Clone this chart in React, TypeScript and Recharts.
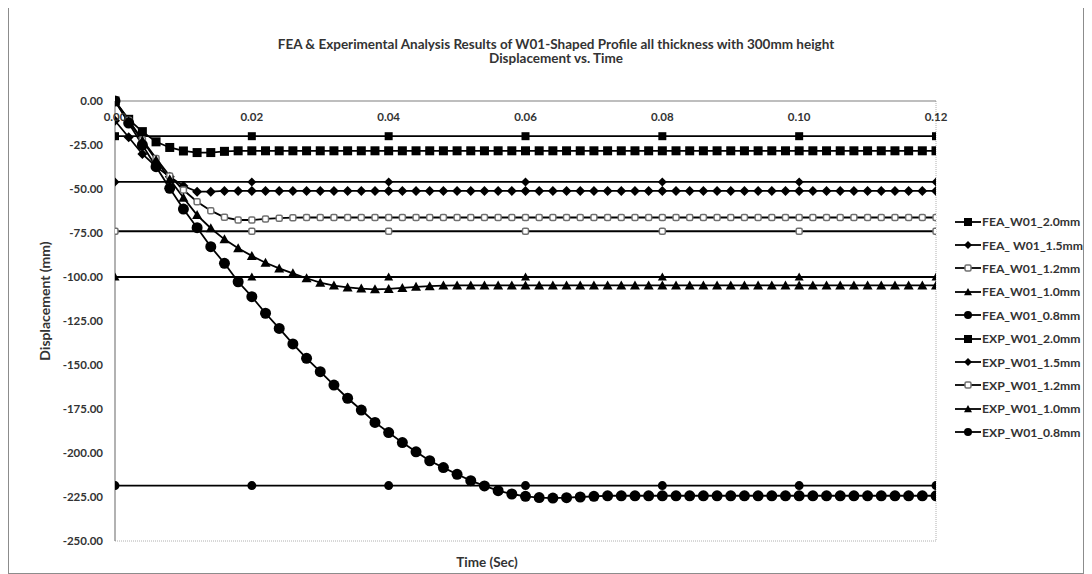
import { LineChart, Line, XAxis, YAxis, ReferenceLine } from 'recharts';

// FEA time steps (sec)
const TIME = [
  0, 0.002, 0.004, 0.006, 0.008, 0.01, 0.012, 0.014, 0.016, 0.018,
  0.02, 0.022, 0.024, 0.026, 0.028, 0.03, 0.032, 0.034, 0.036, 0.038,
  0.04, 0.042, 0.044, 0.046, 0.048, 0.05, 0.052, 0.054, 0.056, 0.058,
  0.06, 0.062, 0.064, 0.066, 0.068, 0.07, 0.072, 0.074, 0.076, 0.078,
  0.08, 0.082, 0.084, 0.086, 0.088, 0.09, 0.092, 0.094, 0.096, 0.098,
  0.1, 0.102, 0.104, 0.106, 0.108, 0.11, 0.112, 0.114, 0.116, 0.118,
  0.12,
];

const FEA_2_0 = [
  0, -10.4, -17.4, -23.2, -26.4, -28.4, -29.3, -29.3, -28.6, -28.3,
  -28.3, -28.3, -28.3, -28.3, -28.3, -28.3, -28.3, -28.3, -28.3, -28.3,
  -28.3, -28.3, -28.3, -28.3, -28.3, -28.3, -28.3, -28.3, -28.3, -28.3,
  -28.3, -28.3, -28.3, -28.3, -28.3, -28.3, -28.3, -28.3, -28.3, -28.3,
  -28.3, -28.3, -28.3, -28.3, -28.3, -28.3, -28.3, -28.3, -28.3, -28.3,
  -28.3, -28.3, -28.3, -28.3, -28.3, -28.3, -28.3, -28.3, -28.3, -28.3,
  -28.3,
];

const FEA_1_5 = [
  -11.2, -20.6, -30.1, -37.3, -43.0, -48.3, -51.5, -51.5, -51.1, -51.1,
  -51.1, -51.1, -51.1, -51.1, -51.1, -51.1, -51.1, -51.1, -51.1, -51.1,
  -51.1, -51.1, -51.1, -51.1, -51.1, -51.1, -51.1, -51.1, -51.1, -51.1,
  -51.1, -51.1, -51.1, -51.1, -51.1, -51.1, -51.1, -51.1, -51.1, -51.1,
  -51.1, -51.1, -51.1, -51.1, -51.1, -51.1, -51.1, -51.1, -51.1, -51.1,
  -51.1, -51.1, -51.1, -51.1, -51.1, -51.1, -51.1, -51.1, -51.1, -51.1,
  -51.1,
];

const FEA_1_2 = [
  0, -11.0, -22.0, -32.6, -42.6, -50.6, -57.2, -62.3, -66.1, -67.6,
  -67.6, -67.0, -66.6, -66.3, -66.2, -66.2, -66.2, -66.2, -66.2, -66.2,
  -66.2, -66.2, -66.2, -66.2, -66.2, -66.2, -66.2, -66.2, -66.2, -66.2,
  -66.2, -66.2, -66.2, -66.2, -66.2, -66.2, -66.2, -66.2, -66.2, -66.2,
  -66.2, -66.2, -66.2, -66.2, -66.2, -66.2, -66.2, -66.2, -66.2, -66.2,
  -66.2, -66.2, -66.2, -66.2, -66.2, -66.2, -66.2, -66.2, -66.2, -66.2,
  -66.2,
];

const FEA_1_0 = [
  0, -11.5, -22.5, -33.5, -44.5, -55.0, -64.8, -72.3, -78.6, -83.7,
  -88.0, -91.9, -95.1, -97.9, -100.7, -103.2, -104.9, -105.9, -106.6, -107.0,
  -106.8, -106.2, -105.6, -105.2, -104.9, -104.8, -104.8, -104.8, -104.8, -104.8,
  -104.8, -104.8, -104.8, -104.8, -104.8, -104.8, -104.8, -104.8, -104.8, -104.8,
  -104.8, -104.8, -104.8, -104.8, -104.8, -104.8, -104.8, -104.8, -104.8, -104.8,
  -104.8, -104.8, -104.8, -104.8, -104.8, -104.8, -104.8, -104.8, -104.8, -104.8,
  -104.8,
];

const FEA_0_8 = [
  0, -12.5, -25.0, -37.3, -49.6, -61.4, -72.0, -82.8, -92.2, -102.7,
  -111.2, -120.6, -129.2, -138.0, -146.2, -153.8, -161.4, -168.9, -175.6, -182.6,
  -188.4, -194.1, -199.3, -204.4, -208.3, -212.1, -215.7, -218.7, -221.4, -223.3,
  -224.6, -225.3, -225.6, -225.4, -225.0, -224.6, -224.3, -224.3, -224.3, -224.3,
  -224.3, -224.3, -224.3, -224.3, -224.3, -224.3, -224.3, -224.3, -224.3, -224.3,
  -224.3, -224.3, -224.3, -224.3, -224.3, -224.3, -224.3, -224.3, -224.3, -224.3,
  -224.3,
];

// experimental results (constant final displacement)
const EXP_TIME = [0, 0.02, 0.04, 0.06, 0.08, 0.1, 0.12];
const EXP_2_0 = [-20, -20, -20, -20, -20, -20, -20];
const EXP_1_5 = [-46, -46, -46, -46, -46, -46, -46];
const EXP_1_2 = [-74, -74, -74, -74, -74, -74, -74];
const EXP_1_0 = [-100, -100, -100, -100, -100, -100, -100];
const EXP_0_8 = [-218.5, -218.5, -218.5, -218.5, -218.5, -218.5, -218.5];

const X_TICKS = [0, 0.02, 0.04, 0.06, 0.08, 0.1, 0.12];
const Y_TICKS = [0, -25, -50, -75, -100, -125, -150, -175, -200, -225, -250];

const FONT = "Lato, 'Open Sans', sans-serif";
const TEXT = '#333333';

type Shape = 'square' | 'diamond' | 'open' | 'triangle' | 'circle';

const toRows = (xs: number[], ys: number[]) => xs.map((t, i) => ({ t, v: ys[i] }));

const SERIES: { name: string; rows: { t: number; v: number }[]; shape: Shape; size: number }[] = [
  { name: 'FEA_W01_2.0mm', rows: toRows(TIME, FEA_2_0), shape: 'square', size: 9 },
  { name: 'FEA_ W01_1.5mm', rows: toRows(TIME, FEA_1_5), shape: 'diamond', size: 10 },
  { name: 'FEA_W01_1.2mm', rows: toRows(TIME, FEA_1_2), shape: 'open', size: 6 },
  { name: 'FEA_W01_1.0mm', rows: toRows(TIME, FEA_1_0), shape: 'triangle', size: 10 },
  { name: 'FEA_W01_0.8mm', rows: toRows(TIME, FEA_0_8), shape: 'circle', size: 11 },
  { name: 'EXP_W01_2.0mm', rows: toRows(EXP_TIME, EXP_2_0), shape: 'square', size: 8 },
  { name: 'EXP_W01_1.5mm', rows: toRows(EXP_TIME, EXP_1_5), shape: 'diamond', size: 9 },
  { name: 'EXP_W01_1.2mm', rows: toRows(EXP_TIME, EXP_1_2), shape: 'open', size: 6 },
  { name: 'EXP_W01_1.0mm', rows: toRows(EXP_TIME, EXP_1_0), shape: 'triangle', size: 9 },
  { name: 'EXP_W01_0.8mm', rows: toRows(EXP_TIME, EXP_0_8), shape: 'circle', size: 9 },
];

const Marker = ({ shape, cx, cy, size }: { shape: Shape; cx: number; cy: number; size: number }) => {
  const h = size / 2;
  switch (shape) {
    case 'square':
      return <rect x={cx - h} y={cy - h} width={size} height={size} fill="#000" />;
    case 'diamond':
      return <polygon points={`${cx},${cy - h} ${cx + h},${cy} ${cx},${cy + h} ${cx - h},${cy}`} fill="#000" />;
    case 'open':
      return (
        <rect x={cx - h} y={cy - h} width={size} height={size} rx={1.5} fill="#fff" stroke="#707070" strokeWidth={1.5} />
      );
    case 'triangle':
      return <polygon points={`${cx},${cy - h} ${cx + h},${cy + h * 0.8} ${cx - h},${cy + h * 0.8}`} fill="#000" />;
    default:
      return <circle cx={cx} cy={cy} r={h} fill="#000" />;
  }
};

const XTick = (props: any) => {
  const { x, y, payload } = props;
  return (
    <text x={x} y={y + 20} textAnchor="middle" fontFamily={FONT} fontSize={11.5} fontWeight={700} fill={TEXT}>
      {Number(payload.value).toFixed(2)}
    </text>
  );
};

export default function App() {
  return (
    <div style={{ position: 'relative', width: 1076, height: 571, marginTop: -5, fontFamily: FONT }}>
      <div style={{ position: 'absolute', inset: 0, border: '1px solid #8c8c8c', pointerEvents: 'none' }} />
      <LineChart
        width={1076}
        height={571}
        margin={{ top: 78, right: 148, bottom: 33, left: 47 }}
        style={{ position: 'absolute', left: 0, top: 0 }}
      >
        <XAxis
          dataKey="t"
          type="number"
          orientation="top"
          height={20}
          domain={[0, 0.12]}
          ticks={X_TICKS}
          allowDataOverflow
          tickLine={false}
          tickSize={0}
          tickMargin={0}
          axisLine={{ stroke: '#7f7f7f', strokeWidth: 1.2 }}
          tick={<XTick />}
        />
        <YAxis
          type="number"
          width={60}
          domain={[-250, 0]}
          ticks={Y_TICKS}
          tickFormatter={(v: number) => v.toFixed(2)}
          tickLine={false}
          tickSize={0}
          tickMargin={12}
          axisLine={{ stroke: '#7f7f7f', strokeWidth: 1.2 }}
          tick={{ fontFamily: FONT, fontSize: 11.5, fontWeight: 700, fill: TEXT }}
        />
        <ReferenceLine y={-250} stroke="#b0b0b0" strokeDasharray="1 1" />
        <ReferenceLine x={0.12} stroke="#b0b0b0" strokeDasharray="1 1" />
        {SERIES.map((s) => (
          <Line
            key={s.name}
            data={s.rows}
            dataKey="v"
            name={s.name}
            type="linear"
            stroke="#000"
            strokeWidth={1.8}
            isAnimationActive={false}
            activeDot={false}
            dot={(p: any) => (
              <g key={`${s.name}-${p.index}`}>
                {p.cx != null && p.cy != null ? <Marker shape={s.shape} cx={p.cx} cy={p.cy} size={s.size} /> : null}
              </g>
            )}
          />
        ))}
      </LineChart>

      <div style={{ position: 'absolute', left: 48, width: 1000, top: 33, lineHeight: '16px', textAlign: 'center', fontSize: 13.5, fontWeight: 700, color: TEXT }}>
        FEA &amp; Experimental Analysis Results of W01-Shaped Profile all thickness with 300mm height
      </div>
      <div style={{ position: 'absolute', left: 48, width: 1000, top: 47, lineHeight: '16px', textAlign: 'center', fontSize: 13.5, fontWeight: 700, color: TEXT }}>
        Displacement vs. Time
      </div>
      <div style={{ position: 'absolute', left: 379, width: 200, top: 551, lineHeight: '16px', textAlign: 'center', fontSize: 13.5, fontWeight: 700, color: TEXT }}>
        Time (Sec)
      </div>
      <div
        style={{
          position: 'absolute', left: 37 - 100, width: 200, top: 298 - 8, lineHeight: '16px', textAlign: 'center',
          fontSize: 14, fontWeight: 700, color: TEXT, transform: 'rotate(-90deg)',
        }}
      >
        Displacement (mm)
      </div>

      <div style={{ position: 'absolute', left: 947, top: 207, width: 128 }}>
        {SERIES.map((s) => (
          <div key={s.name} style={{ display: 'flex', alignItems: 'center', height: 23.4 }}>
            <svg width={26} height={12} style={{ flex: 'none' }}>
              <line x1={0} y1={6} x2={26} y2={6} stroke="#000" strokeWidth={1.8} />
              <Marker shape={s.shape} cx={13} cy={6} size={s.shape === 'open' ? 6 : 8} />
            </svg>
            <span style={{ marginLeft: 1, fontSize: 12.2, fontWeight: 700, color: TEXT, whiteSpace: 'pre' }}>{s.name}</span>
          </div>
        ))}
      </div>
    </div>
  );
}
